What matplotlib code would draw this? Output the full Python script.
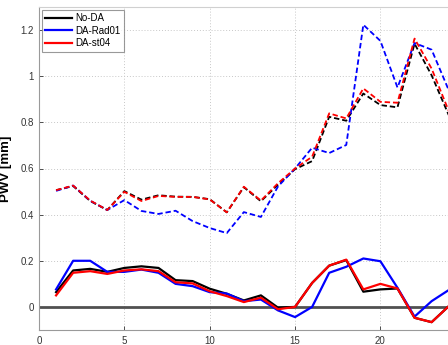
import matplotlib
matplotlib.use("Agg")
import matplotlib.pyplot as plt

plt.rcParams["font.family"] = ["Liberation Sans", "DejaVu Sans"]

x = list(range(1, 25))

# Dashed series (upper group)
noda_dash = [0.506, 0.524, 0.459, 0.420, 0.502, 0.465, 0.484, 0.478, 0.477, 0.467,
             0.410, 0.519, 0.458, 0.530, 0.597, 0.632, 0.824, 0.807, 0.925, 0.875,
             0.865, 1.141, 1.004, 0.832]
rad01_dash = [0.503, 0.526, 0.460, 0.420, 0.463, 0.416, 0.403, 0.417, 0.372, 0.342,
              0.320, 0.411, 0.390, 0.522, 0.600, 0.690, 0.667, 0.702, 1.223, 1.153,
              0.951, 1.144, 1.115, 0.940]
st04_dash = [0.506, 0.526, 0.461, 0.420, 0.499, 0.459, 0.481, 0.477, 0.477, 0.466,
             0.410, 0.521, 0.461, 0.536, 0.600, 0.651, 0.839, 0.817, 0.947, 0.889,
             0.885, 1.163, 1.033, 0.850]

# Solid series (lower group)
noda_solid = [0.064, 0.158, 0.165, 0.152, 0.169, 0.176, 0.169, 0.116, 0.112, 0.079,
              0.057, 0.028, 0.050, -0.003, 0.000, 0.104, 0.179, 0.203, 0.066, 0.076,
              0.080, -0.047, -0.066, 0.003]
rad01_solid = [0.076, 0.200, 0.200, 0.152, 0.152, 0.162, 0.148, 0.100, 0.090, 0.064,
               0.058, 0.025, 0.032, -0.015, -0.044, 0.000, 0.148, 0.174, 0.210, 0.198,
               0.083, -0.042, 0.025, 0.073]
st04_solid = [0.050, 0.148, 0.155, 0.143, 0.158, 0.163, 0.155, 0.107, 0.102, 0.068,
              0.047, 0.021, 0.040, -0.010, 0.000, 0.104, 0.179, 0.205, 0.076, 0.100,
              0.080, -0.047, -0.066, 0.003]

labels = ["No-DA", "DA-Rad01", "DA-st04"]
colors = ["#000000", "#0000ff", "#ff0000"]

fig = plt.figure(figsize=(4.48, 3.45), dpi=100)
ax = fig.add_axes([39/448, 15/345, 1 - 39/448, (330-7)/345])

ax.axhline(0, color="#505050", lw=2.0, zorder=1)

dash = (0, (3.0, 1.6))
for ys, c in zip([noda_dash, rad01_dash, st04_dash], colors):
    ax.plot(x, ys, color=c, lw=1.3, linestyle=dash, zorder=3)
for ys, c, lab in zip([noda_solid, rad01_solid, st04_solid], colors, labels):
    ax.plot(x, ys, color=c, lw=1.6, label=lab, zorder=3)

ax.set_xlim(0, 23.96)
ax.set_ylim(-0.1, 1.3)
ax.set_xticks([0, 5, 10, 15, 20])
ax.set_yticks([0, 0.2, 0.4, 0.6, 0.8, 1.0, 1.2])
ax.set_yticklabels(["0", "0.2", "0.4", "0.6", "0.8", "1", "1.2"])
ax.grid(True, linestyle=(0, (1, 2)), color="#c8c8c8", lw=0.7)
ax.set_axisbelow(True)
ax.tick_params(labelsize=7, colors="#333333", direction="in", length=3, width=0.6)
ax.tick_params(axis="x", pad=4)
for s in ["left", "bottom"]:
    ax.spines[s].set_color("#9a9a9a")
ax.spines["top"].set_color("#d0d0d0")
ax.spines["right"].set_visible(False)

ax.set_ylabel("PWV [mm]", fontsize=9.5, fontweight="bold")
ax.yaxis.set_label_coords(-0.066, 0.5)

leg = ax.legend(loc="upper left", fontsize=7, frameon=True, fancybox=False,
                borderaxespad=0.3, handlelength=2.7, handletextpad=0.4,
                labelspacing=0.25, borderpad=0.35)
leg.get_frame().set_edgecolor("#808080")
leg.get_frame().set_linewidth(0.8)

fig.savefig("out.png", dpi=100)
